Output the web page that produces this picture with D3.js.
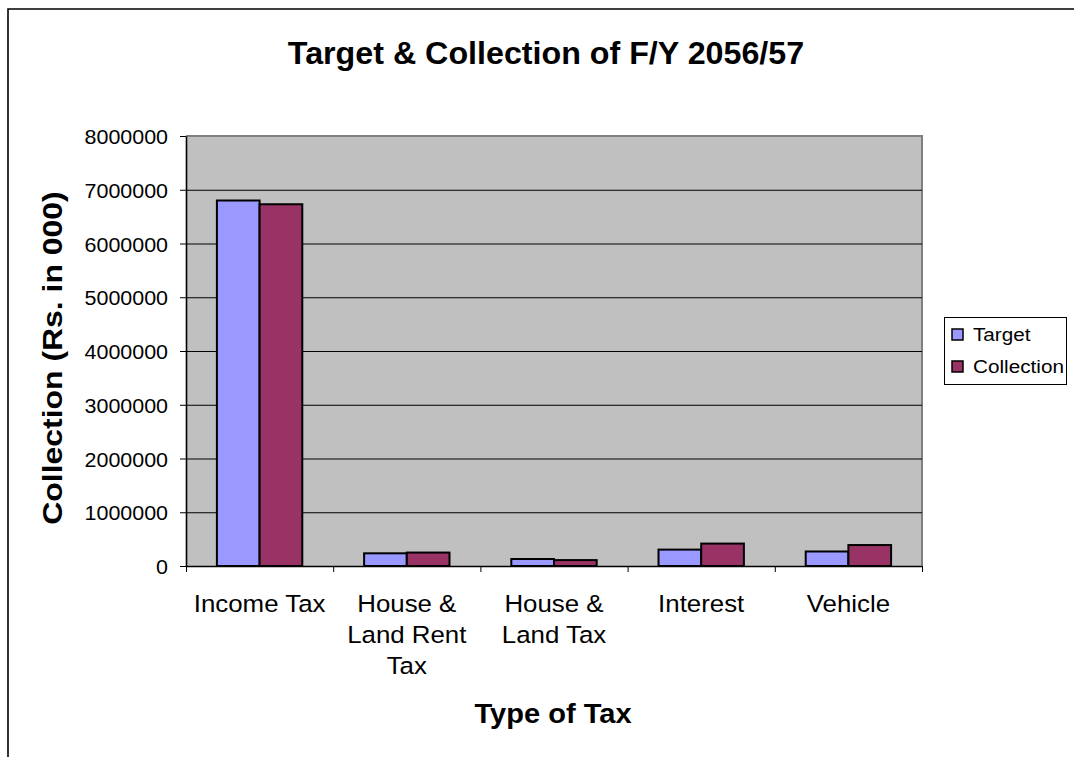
<!DOCTYPE html>
<html>
<head>
<meta charset="utf-8">
<script src="https://cdn.jsdelivr.net/npm/d3@7"></script>
<style>
  html, body { margin: 0; padding: 0; background: #fff; }
  svg text { font-family: "Liberation Sans", Arial, sans-serif; fill: #000; }
</style>
</head>
<body>
<svg id="chart" width="1074" height="757"></svg>
<script>
// Tax heads and their wrapped axis labels
const categories = ["Income Tax", "House & Land Rent Tax", "House & Land Tax", "Interest", "Vehicle"];
const categoryLines = [["Income Tax"], ["House &", "Land Rent", "Tax"], ["House &", "Land Tax"], ["Interest"], ["Vehicle"]];
const series = ["Target", "Collection"];
const target = [6800000, 236000, 130000, 305000, 270000];
const collection = [6730000, 250000, 110000, 417000, 390000];
const yTicks = [0, 1000000, 2000000, 3000000, 4000000, 5000000, 6000000, 7000000, 8000000];
const colors = { Target: "#9999FF", Collection: "#993366" };

const svg = d3.select("#chart");
const plot = { left: 186, right: 922, top: 136, bottom: 566 };

// Text helper: Excel-style slightly widened glyphs
function label(parent, x, y, str, opts) {
  const o = Object.assign({ size: 18, weight: "normal", anchor: "middle", sx: 1, rotate: 0 }, opts);
  return parent.append("text")
    .attr("transform", `translate(${x},${y}) rotate(${o.rotate}) scale(${o.sx},1)`)
    .attr("text-anchor", o.anchor)
    .style("font-size", o.size + "px")
    .style("font-weight", o.weight)
    .text(str);
}

// Outer chart frame
svg.append("path")
  .attr("d", "M8,757 L8,9 L1074,9")
  .attr("fill", "none").attr("stroke", "#000").attr("stroke-width", 1.6);

const x0 = d3.scaleBand().domain(categories).range([plot.left, plot.right])
  .paddingInner(0.42).paddingOuter(0.21);
const x1 = d3.scaleBand().domain(series).range([0, x0.bandwidth()]);
const y = d3.scaleLinear().domain([0, 8000000]).range([plot.bottom, plot.top]);

// Plot area
svg.append("rect")
  .attr("x", plot.left).attr("y", plot.top)
  .attr("width", plot.right - plot.left).attr("height", plot.bottom - plot.top)
  .attr("fill", "#C0C0C0");
svg.append("path")
  .attr("d", `M${plot.left},${plot.top} L${plot.right},${plot.top} L${plot.right},${plot.bottom}`)
  .attr("fill", "none").attr("stroke", "#808080").attr("stroke-width", 2);

// Gridlines
svg.append("g")
  .attr("transform", `translate(${plot.left},0)`)
  .call(d3.axisLeft(y).tickValues(yTicks.slice(1, -1)).tickSize(-(plot.right - plot.left)).tickFormat(""))
  .call(g => g.select(".domain").remove())
  .call(g => g.selectAll("line").attr("stroke", "#000").attr("stroke-width", 1));

// Bars
const rows = categories.map((c, i) => ({ cat: c, values: [
  { key: "Target", value: target[i] },
  { key: "Collection", value: collection[i] }
]}));
svg.append("g").selectAll("g").data(rows).join("g")
  .attr("transform", d => `translate(${x0(d.cat)},0)`)
  .selectAll("rect").data(d => d.values).join("rect")
  .attr("x", d => x1(d.key))
  .attr("y", d => y(d.value))
  .attr("width", x1.bandwidth())
  .attr("height", d => y(0) - y(d.value))
  .attr("fill", d => colors[d.key])
  .attr("stroke", "#000").attr("stroke-width", 2);

// Value axis
svg.append("g")
  .attr("transform", `translate(${plot.left},0)`)
  .call(d3.axisLeft(y).tickValues(yTicks).tickSize(6).tickSizeOuter(0).tickFormat(""))
  .call(g => g.select(".domain").attr("stroke", "#000").attr("stroke-width", 1.6))
  .call(g => g.selectAll(".tick line").attr("stroke", "#000"));
yTicks.forEach(v => label(svg, 168, y(v) + 8, d3.format("d")(v), { size: 19.5, anchor: "end", sx: 1.1 }));

// Category axis with ticks between groups
const xb = d3.scaleLinear().domain([0, categories.length]).range([plot.left, plot.right]);
svg.append("g")
  .attr("transform", `translate(0,${plot.bottom})`)
  .call(d3.axisBottom(xb).tickValues(d3.range(categories.length + 1)).tickSize(6).tickSizeOuter(0).tickFormat(""))
  .call(g => g.select(".domain").attr("stroke", "#000").attr("stroke-width", 1.6))
  .call(g => g.selectAll(".tick line").attr("stroke", "#000"));

categories.forEach((c, i) => {
  const cx = x0(c) + x0.bandwidth() / 2;
  categoryLines[i].forEach((line, j) => label(svg, cx, 612 + j * 31, line, { size: 23.5, sx: 1.1 }));
});

// Titles
label(svg, 546, 64, "Target & Collection of F/Y 2056/57", { size: 31, weight: "bold", sx: 1.04 });
label(svg, 553, 723, "Type of Tax", { size: 28.5, weight: "bold", sx: 1.02 });
label(svg, 62, 358, "Collection (Rs. in 000)", { size: 28.5, weight: "bold", sx: 1.12, rotate: -90 });

// Legend
const lg = svg.append("g");
lg.append("rect").attr("x", 944.5).attr("y", 317.5).attr("width", 122).attr("height", 67)
  .attr("fill", "#fff").attr("stroke", "#000").attr("stroke-width", 1);
series.forEach((s, i) => {
  const yy = 329 + i * 32;
  lg.append("rect").attr("x", 952).attr("y", yy).attr("width", 11).attr("height", 11)
    .attr("fill", colors[s]).attr("stroke", "#000").attr("stroke-width", 1.5);
  label(lg, 973, yy + 12, s, { size: 18.5, anchor: "start", sx: 1.12 });
});
</script>
</body>
</html>
